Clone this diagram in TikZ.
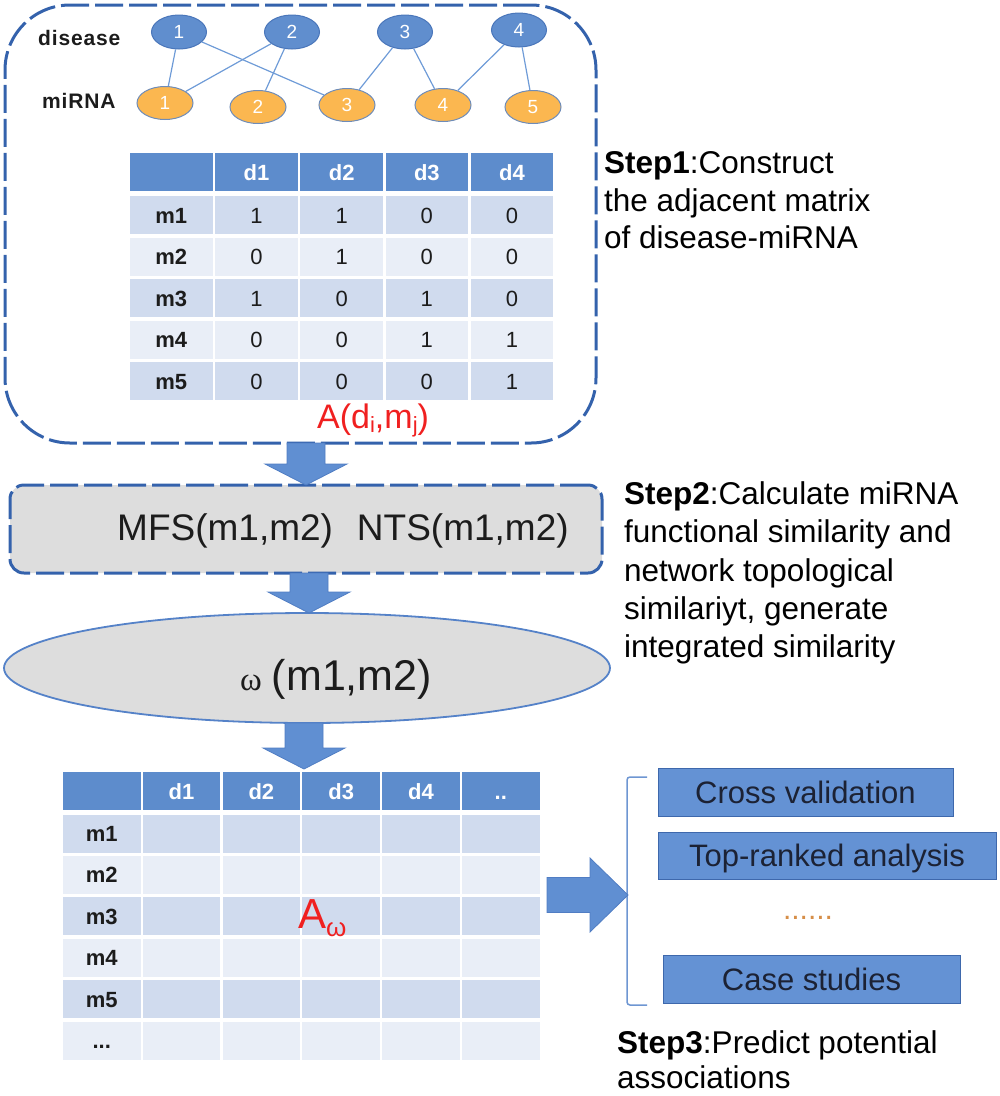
\documentclass[tikz,border=0pt]{standalone}
\usepackage{fontspec}
\setmainfont{Liberation Sans}
\newfontfamily\serifw{Liberation Serif}
\usetikzlibrary{shapes.geometric}
\definecolor{dashblue}{RGB}{52,98,172}
\definecolor{nodeblue}{RGB}{96,142,206}
\definecolor{nodeborder}{RGB}{74,118,186}
\definecolor{morange}{RGB}{251,183,80}
\definecolor{mborder}{RGB}{110,140,185}
\definecolor{edgeblue}{RGB}{110,155,215}
\definecolor{hdrblue}{RGB}{93,140,204}
\definecolor{rowdark}{RGB}{208,219,238}
\definecolor{rowlight}{RGB}{233,238,247}
\definecolor{boxgray}{RGB}{221,221,221}
\definecolor{ellblue}{RGB}{85,130,200}
\definecolor{arrowblue}{RGB}{96,143,210}
\definecolor{arrowborder}{RGB}{80,125,195}
\definecolor{rboxblue}{RGB}{100,146,212}
\definecolor{rboxborder}{RGB}{62,104,172}
\definecolor{rboxtext}{RGB}{28,34,52}
\definecolor{txtdark}{RGB}{28,28,28}
\definecolor{redtxt}{RGB}{240,32,32}
\definecolor{dotorange}{RGB}{214,142,72}
\definecolor{bracketblue}{RGB}{110,150,210}
\newcommand{\fsz}[1]{\fontsize{#1}{#1}\selectfont}
\newcommand{\vblockarrow}[3]{%
  \filldraw[barrow] (#1-19,#2) -- (#1+19,#2) -- (#1+19,#3-21) -- (#1+41,#3-21)
    -- (#1,#3) -- (#1-41,#3-21) -- (#1-19,#3-21) -- cycle;}
\begin{document}
\begin{tikzpicture}[x=1pt,y=-1pt,
  topbox/.style={draw=dashblue, line width=3pt, dash pattern=on 28pt off 6pt,
    rounded corners=65pt, minimum width=591pt, minimum height=438pt, inner sep=0pt},
  stepbox/.style={draw=dashblue, line width=3pt, dash pattern=on 28pt off 6pt,
    rounded corners=14pt, fill=boxgray, minimum width=592pt, minimum height=88pt, inner sep=0pt},
  ellbox/.style={ellipse, draw=ellblue, line width=1.8pt, fill=boxgray,
    minimum width=606pt, minimum height=110pt, inner sep=0pt},
  dnode/.style={ellipse, draw=nodeborder, line width=1pt, fill=nodeblue,
    minimum width=55pt, minimum height=34pt, inner sep=0pt, text=white, font=\fsz{19}},
  mnode/.style={ellipse, draw=mborder, line width=1pt, fill=morange,
    minimum width=56pt, minimum height=33pt, inner sep=0pt, text=white, font=\fsz{19}},
  edge/.style={draw=edgeblue, line width=1.2pt},
  lbl/.style={font=\bfseries\fsz{21}\addfontfeature{LetterSpace=4}, anchor=base west,
    inner sep=0pt, text=txtdark},
  hdr/.style={text=white, font=\bfseries\fsz{22}, inner sep=0pt, text height=16pt, text depth=0pt},
  rowlbl/.style={text=txtdark, font=\bfseries\fsz{22}, inner sep=0pt, text height=16pt, text depth=0pt},
  val/.style={text=txtdark, font=\fsz{22}, inner sep=0pt, text height=16pt, text depth=0pt},
  steptxt/.style={font=\fsz{31.5}, anchor=base west, inner sep=0pt, text=black},
  rbox/.style={draw=rboxborder, line width=1pt, fill=rboxblue, text=rboxtext,
    font=\fsz{31}, inner sep=0pt, text height=22pt, text depth=0pt},
  barrow/.style={fill=arrowblue, draw=arrowborder, line width=0.8pt},
  bracketline/.style={draw=bracketblue, line width=1.5pt, rounded corners=3pt},
  redlbl/.style={text=redtxt, anchor=base west, inner sep=0pt}
]
\useasboundingbox (0,0) rectangle (1000,1096);

% ---------- Step 1 box ----------
\node[topbox] (box1) at (300.5,224) {};

\node[lbl] (lbldis) at (38,45) {disease};
\node[lbl] (lblmi) at (42,108) {miRNA};

\node[dnode] (d1) at (179,32) {1};
\node[dnode] (d2) at (292,32) {2};
\node[dnode] (d3) at (405,32) {3};
\node[dnode] (d4) at (519,30) {4};

\node[mnode] (m1) at (165,103) {1};
\node[mnode] (m2) at (258,107) {2};
\node[mnode] (m3) at (347,105) {3};
\node[mnode] (m4) at (443,105) {4};
\node[mnode] (m5) at (533,107) {5};

\draw[edge] (d1) -- (m1);
\draw[edge] (d1) -- (m3);
\draw[edge] (d2) -- (m1);
\draw[edge] (d2) -- (m2);
\draw[edge] (d3) -- (m3);
\draw[edge] (d3) -- (m4);
\draw[edge] (d4) -- (m4);
\draw[edge] (d4) -- (m5);

% top table
\foreach \c in {0,1,2,3,4} {
  \pgfmathsetmacro\xa{130+85.2*\c}
  \pgfmathsetmacro\xb{\xa+82.5}
  \fill[hdrblue] (\xa,153) rectangle (\xb,191);
  \foreach \r/\rc in {1/rowdark,2/rowlight,3/rowdark,4/rowlight,5/rowdark} {
    \pgfmathsetmacro\yc{215+41.6*(\r-1)}
    \fill[fill=\rc] (\xa,\yc-19) rectangle (\xb,\yc+19);
  }
}
\node[hdr] (tA-h1) at (256.45,172) {d1};
\node[hdr] (tA-h2) at (341.65,172) {d2};
\node[hdr] (tA-h3) at (426.85,172) {d3};
\node[hdr] (tA-h4) at (512.05,172) {d4};
\foreach \r/\va/\vb/\vc/\vd in {1/1/1/0/0,2/0/1/0/0,3/1/0/1/0,4/0/0/1/1,5/0/0/0/1} {
  \pgfmathsetmacro\yc{215+41.6*(\r-1)}
  \node[rowlbl] (tA-m\r) at (171.25,\yc) {m\r};
  \node[val] (tA-\r-1) at (256.45,\yc) {\va};
  \node[val] (tA-\r-2) at (341.65,\yc) {\vb};
  \node[val] (tA-\r-3) at (426.85,\yc) {\vc};
  \node[val] (tA-\r-4) at (512.05,\yc) {\vd};
}
\node[redlbl, font=\fsz{34}] (adm) at (317,428)
  {A(d\raisebox{-4pt}{\fsz{22}i},m\raisebox{-4pt}{\fsz{22}j})};

\node[steptxt] (s1a) at (604,173) {\textbf{Step1}:Construct};
\node[steptxt] (s1b) at (604,211) {the adjacent matrix};
\node[steptxt] (s1c) at (604,248) {of disease-miRNA};

% ---------- Step 2 ----------
\node[stepbox] (box2) at (306,529) {};
\node[anchor=base west, inner sep=0pt, font=\fsz{37}, text=txtdark] (mfs) at (117,540)
  {MFS(m1,m2)\hspace{24pt}NTS(m1,m2)};

\node[ellbox] (ell) at (307,668) {};
\node[anchor=base west, inner sep=0pt, font=\fsz{43}, text=txtdark] (omega) at (240,690)
  {{\serifw\fsz{33}ω}\hspace{10pt}(m1,m2)};

\node[steptxt] (s2a) at (624,504) {\textbf{Step2}:Calculate miRNA};
\node[steptxt] (s2b) at (624,542) {functional similarity and};
\node[steptxt] (s2c) at (624,581) {network topological};
\node[steptxt] (s2d) at (624,619) {similariyt, generate};
\node[steptxt] (s2e) at (624,657) {integrated similarity};

% ---------- bottom table ----------
\foreach \c in {0,1,2,3,4,5} {
  \pgfmathsetmacro\xa{63+79.8*\c}
  \pgfmathsetmacro\xb{\xa+77.5}
  \fill[hdrblue] (\xa,772) rectangle (\xb,810);
  \foreach \r/\rc in {1/rowdark,2/rowlight,3/rowdark,4/rowlight,5/rowdark,6/rowlight} {
    \pgfmathsetmacro\yc{833.5+41.4*(\r-1)}
    \fill[fill=\rc] (\xa,\yc-19) rectangle (\xb,\yc+19);
  }
}
\node[hdr] (tB-h1) at (181.55,791) {d1};
\node[hdr] (tB-h2) at (261.35,791) {d2};
\node[hdr] (tB-h3) at (341.15,791) {d3};
\node[hdr] (tB-h4) at (420.95,791) {d4};
\node[hdr] (tB-h5) at (500.75,791) {..};
\node[rowlbl] (tB-m1) at (101.75,833.5) {m1};
\node[rowlbl] (tB-m2) at (101.75,874.9) {m2};
\node[rowlbl] (tB-m3) at (101.75,916.3) {m3};
\node[rowlbl] (tB-m4) at (101.75,957.7) {m4};
\node[rowlbl] (tB-m5) at (101.75,999.1) {m5};
\node[rowlbl] (tB-m6) at (101.75,1040.5) {...};
\node[redlbl, font=\fsz{42}] (aw) at (298,928) {A\raisebox{-8pt}{\fsz{26}ω}};

% ---------- Step 3 ----------
\node[rbox, minimum width=295pt, minimum height=48pt] (cv) at (805.5,792) {Cross validation};
\node[rbox, minimum width=338pt, minimum height=47pt] (tr) at (827,855.5) {Top-ranked analysis};
\node[rbox, minimum width=297pt, minimum height=48pt] (cs) at (811.5,979) {Case studies};
\node[inner sep=0pt, font=\fsz{30}, text=dotorange] (dots) at (808,918) {......};

\coordinate (brt) at (647,777);
\coordinate (brb) at (647,1005);
\draw[bracketline] (brt) -- (627,777) -- (627,1005) -- (brb);

\node[steptxt] (s3a) at (617,1053) {\textbf{Step3}:Predict potential};
\node[steptxt] (s3b) at (617,1088) {associations};

% ---------- block arrows ----------
\vblockarrow{306}{443}{485}
\vblockarrow{309}{573}{613}
\vblockarrow{304}{723}{769}
\filldraw[barrow] (547,877.5) -- (590,877.5) -- (590,858) -- (628,895)
  -- (590,932) -- (590,912.5) -- (547,912.5) -- cycle;
\end{tikzpicture}
\end{document}
